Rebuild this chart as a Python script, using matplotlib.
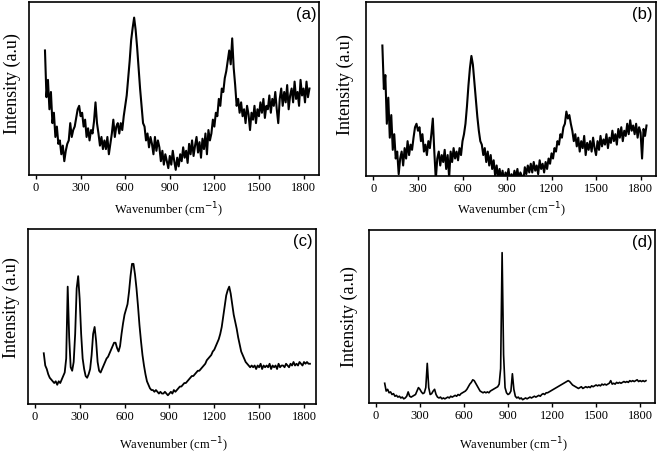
import numpy as np
import matplotlib
matplotlib.use("Agg")
import matplotlib.pyplot as plt

plt.rcParams['font.family'] = ['Liberation Serif', 'DejaVu Serif']

# wavenumber grid (cm^-1), one value every 10 cm^-1
wavenumber = np.arange(60, 1841, 10)

# intensities, 0 = bottom of frame, 100 = top
spec_a = [72, 45, 55, 38, 48, 30, 36, 22, 28, 18,
          20, 12, 17, 8, 14, 18, 20, 30, 22, 26,
          28, 33, 38, 40, 34, 36, 28, 32, 22, 27,
          20, 26, 24, 31, 42, 30, 24, 17, 22, 15,
          20, 15, 22, 12, 18, 24, 32, 22, 28, 30,
          24, 30, 26, 34, 40, 46, 56, 66, 78, 85,
          91, 84, 74, 62, 50, 40, 30, 28, 20, 24,
          16, 22, 18, 12, 22, 14, 20, 16, 8, 14,
          6, 12, 8, 4, 11, 6, 14, 8, 3, 10,
          5, 12, 8, 16, 10, 14, 7, 18, 12, 20,
          11, 17, 22, 13, 19, 10, 21, 15, 24, 12,
          26, 20, 24, 32, 28, 36, 34, 44, 40, 50,
          48, 56, 60, 66, 72, 64, 79, 62, 52, 40,
          44, 36, 42, 34, 38, 30, 40, 35, 26, 36,
          32, 40, 30, 38, 34, 42, 36, 44, 33, 40,
          38, 46, 36, 44, 40, 48, 38, 30, 44, 50,
          40, 48, 42, 52, 38, 46, 50, 42, 54, 44,
          48, 40, 55, 46, 50, 42, 54, 45, 50]

spec_b = [75, 50, 58, 30, 45, 22, 35, 15, 24, 10,
          14, 1, 10, 14, 6, 16, 10, 20, 12, 18,
          15, 22, 28, 30, 26, 28, 20, 24, 14, 18,
          12, 20, 16, 24, 33, 14, -2, 10, 14, 6,
          12, 8, 15, 4, 12, -1, 14, 8, 16, 10,
          14, 9, 16, 12, 20, 24, 30, 40, 52, 62,
          69, 64, 54, 44, 34, 26, 20, 18, 12, 16,
          8, 14, 6, 12, 4, 9, 0, 6, -1, 4,
          -2, 3, -3, 2, -1, 4, -3, 1, -2, 3,
          -1, 4, -2, 2, 0, -3, 5, 1, 6, 2,
          7, 2, 8, 3, 6, 1, 9, 4, 7, 2,
          8, 4, 10, 7, 13, 10, 16, 14, 20, 18,
          24, 22, 28, 30, 37, 33, 35, 30, 26, 20,
          24, 17, 22, 14, 20, 16, 23, 12, 19, 15,
          20, 14, 22, 16, 12, 20, 15, 23, 17, 21,
          18, 24, 16, 22, 19, 26, 20, 24, 18, 27,
          22, 28, 20, 26, 23, 30, 24, 32, 26, 29,
          24, 30, 22, 28, 25, 10, 27, 23, 29]

spec_c = [29, 22, 20, 17, 15, 14, 13, 12, 13, 11,
          13, 12, 14, 16, 18, 26, 67, 38, 21, 19,
          24, 40, 66, 73, 60, 40, 26, 20, 16, 15,
          17, 20, 28, 40, 44, 36, 24, 19, 18, 20,
          22, 24, 26, 27, 29, 31, 33, 35, 35, 32,
          30, 33, 40, 46, 51, 54, 57, 64, 73, 80,
          80, 74, 66, 56, 45, 36, 28, 22, 17, 13,
          11, 9, 8, 8, 7, 8, 7, 6, 7, 6,
          6, 7, 6, 5, 6, 7, 6, 8, 7, 8,
          9, 10, 10, 11, 12, 12, 13, 14, 15, 16,
          16, 17, 18, 19, 19, 20, 21, 22, 23, 25,
          26, 27, 28, 30, 31, 33, 35, 37, 40, 44,
          50, 56, 62, 65, 67, 63, 57, 51, 47, 43,
          38, 34, 30, 28, 26, 24, 23, 22, 21, 22,
          21, 22, 20, 22, 21, 23, 20, 22, 21, 22,
          21, 23, 20, 22, 21, 22, 20, 23, 21, 22,
          22, 21, 23, 22, 21, 23, 22, 24, 22, 23,
          22, 24, 23, 22, 24, 23, 24, 23, 23]

spec_d = [11.5, 7, 8, 6, 6.5, 5, 5.5, 4, 4.5, 3.5,
          4, 3, 3.5, 2.5, 3, 4, 6.5, 4, 3.5, 4,
          4.5, 5, 7, 9, 8, 6.5, 5.5, 6, 9, 23,
          9, 5, 5.5, 7, 8, 5, 3.5, 3, 3.5, 2.5,
          3, 2.5, 3, 3.5, 3, 4, 3.5, 4, 4.5, 4,
          5, 4.5, 5.5, 6, 6.5, 7, 8, 9.5, 11, 12,
          13.5, 13, 11.5, 10, 8.5, 7, 6.5, 6, 6.5, 6,
          6.5, 6, 7, 7.5, 8, 8.5, 9, 9.5, 11, 20,
          87, 28, 9, 6, 5, 5.5, 7, 17, 8, 4,
          3, 3.5, 2.5, 3, 2, 2.5, 3, 2.5, 3, 3.5,
          3, 3.5, 4, 3.5, 4, 4.5, 4, 5, 5.5, 5,
          6, 6, 6.5, 7, 7.5, 8, 8.5, 9, 9.5, 10,
          10.5, 11, 11.5, 12, 12.5, 13, 12.5, 11.5, 10.5, 10,
          9.5, 9, 8.5, 9, 9.5, 8.5, 9, 9.5, 9, 9.5,
          9, 10, 9.5, 10, 10.5, 10, 10.5, 10, 11, 10.5,
          11, 10.5, 11, 11.5, 13, 11, 11.5, 11, 12, 11.5,
          12, 11.5, 12, 12.5, 12, 12.5, 12, 13, 12.5, 13,
          12.5, 13, 13.5, 12.5, 13, 12.5, 13, 12.5, 13]

panel_labels = ["(a)", "(b)", "(c)", "(d)"]
spectra = [spec_a, spec_b, spec_c, spec_d]
xticks = [0, 300, 600, 900, 1200, 1500, 1800]

W, H = 661, 454
# axes boxes in figure fractions [left, bottom, width, height]
boxes = [[0.044, 0.6145, 0.439, 0.381],
         [0.554, 0.6125, 0.438, 0.383],
         [0.042, 0.110, 0.436, 0.386],
         [0.558, 0.112, 0.433, 0.381]]
xlims = [(-47, 1906), (-49, 1902), (-47, 1880), (-48, 1902)]
line_w = [1.5, 1.5, 1.3, 1.2]
# label centres in pixels (x, y from top)
xlabel_pos = [(168, 210), (511, 210), (173, 445), (513, 445)]
ylabel_pos = [(12, 84), (345, 85), (11, 308), (349, 317)]

fig = plt.figure(figsize=(6.61, 4.54), dpi=100)

for i in range(4):
    ax = fig.add_axes(boxes[i])
    ax.plot(wavenumber, spectra[i], color="black", linewidth=line_w[i])
    ax.set_xlim(*xlims[i])
    ax.set_ylim(0, 100)
    ax.set_xticks(xticks)
    ax.set_yticks([])
    ax.tick_params(axis="x", direction="out", length=3, width=1, pad=2, labelsize=9)
    for sp in ax.spines.values():
        sp.set_linewidth(1.2)
    ax.text(0.99, 0.97, panel_labels[i], transform=ax.transAxes, ha="right", va="top",
            fontsize=12, family=["Liberation Sans", "DejaVu Sans"])
    fig.text(xlabel_pos[i][0] / W, 1 - xlabel_pos[i][1] / H, "Wavenumber (cm$^{-1}$)",
             ha="center", va="center", fontsize=9)
    fig.text(ylabel_pos[i][0] / W, 1 - ylabel_pos[i][1] / H, "Intensity (a.u)",
             ha="center", va="center", rotation=90, fontsize=13)

fig.savefig("out.png", dpi=100)
